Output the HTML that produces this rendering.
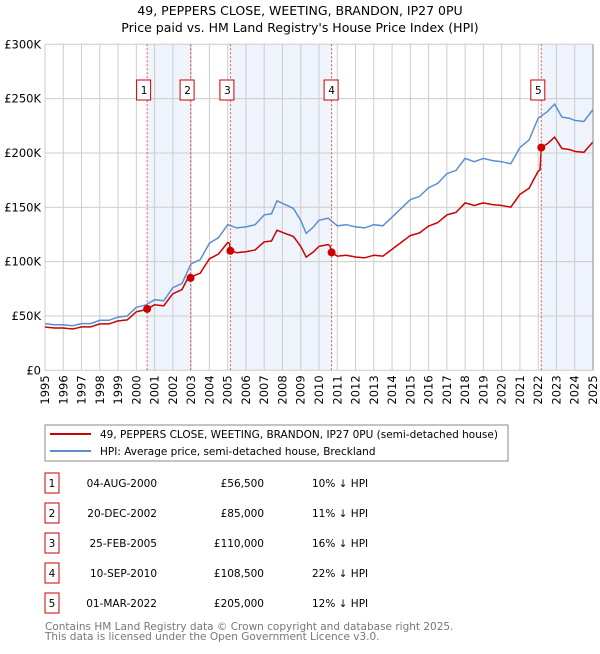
<!DOCTYPE html>
<html><head><meta charset="utf-8"><style>
body{margin:0;background:#fff;width:600px;height:650px;overflow:hidden;font-family:"DejaVu Sans","Liberation Sans",sans-serif;}
svg text{font-family:"DejaVu Sans","Liberation Sans",sans-serif;}
</style></head><body>
<svg id="chart" width="600" height="650" xmlns="http://www.w3.org/2000/svg">
<text x="300" y="15" text-anchor="middle" font-size="12.5" fill="#000">49, PEPPERS CLOSE, WEETING, BRANDON, IP27 0PU</text>
<text x="300" y="32" text-anchor="middle" font-size="12.5" fill="#000">Price paid vs. HM Land Registry's House Price Index (HPI)</text>
<g id="shade"></g><g id="grid"></g><g id="lines"></g><g id="marks"></g><g id="axes"></g>
<rect x="45" y="425" width="463" height="36" fill="#fff" stroke="#888"/>
<line x1="50" y1="434" x2="91" y2="434" stroke="#cc0000" stroke-width="2"/>
<text x="100" y="438" font-size="10.5">49, PEPPERS CLOSE, WEETING, BRANDON, IP27 0PU (semi-detached house)</text>
<line x1="50" y1="451" x2="91" y2="451" stroke="#5b8fd0" stroke-width="2"/>
<text x="100" y="455" font-size="10.5">HPI: Average price, semi-detached house, Breckland</text>
<g id="table"></g>
<text x="45" y="630" font-size="10.5" fill="#777">Contains HM Land Registry data © Crown copyright and database right 2025.</text>
<text x="45" y="640" font-size="10.5" fill="#777">This data is licensed under the Open Government Licence v3.0.</text>
</svg>
<script>
const hpiYears=[1995,1995.5,1996,1996.5,1997,1997.5,1998,1998.5,1999,1999.5,2000,2000.5,2001,2001.5,2002,2002.5,2003,2003.5,2004,2004.5,2005,2005.5,2006,2006.5,2007,2007.4,2007.7,2008.2,2008.6,2009,2009.3,2009.7,2010,2010.5,2011,2011.5,2012,2012.5,2013,2013.5,2014,2014.5,2015,2015.5,2016,2016.5,2017,2017.5,2018,2018.5,2019,2019.5,2020,2020.5,2021,2021.5,2022,2022.5,2022.9,2023.3,2023.7,2024,2024.5,2025];
const hpiValues=[43,42,42,41,43,43,46,46,49,50,58,60,65,64,76,80,98,102,117,122,134,131,132,134,143,144,156,152,149,138,126,132,138,140,133,134,132,131,134,133,141,149,157,160,168,172,181,184,195,192,195,193,192,190,205,212,232,238,245,233,232,230,229,240];
const saleDates=[2000.59,2002.97,2005.15,2010.69,2022.17];
const salePrices=[56.5,85,110,108.5,205];
const saleLabels=["04-AUG-2000","20-DEC-2002","25-FEB-2005","10-SEP-2010","01-MAR-2022"];
const salePriceText=["£56,500","£85,000","£110,000","£108,500","£205,000"];
const saleDiffs=["10% ↓ HPI","11% ↓ HPI","16% ↓ HPI","22% ↓ HPI","12% ↓ HPI"];
const yTicks=[0,50,100,150,200,250,300];
const yTickLabels=["£0","£50K","£100K","£150K","£200K","£250K","£300K"];
const xTicks=[1995,1996,1997,1998,1999,2000,2001,2002,2003,2004,2005,2006,2007,2008,2009,2010,2011,2012,2013,2014,2015,2016,2017,2018,2019,2020,2021,2022,2023,2024,2025];

const X0=45,X1=593,Y0=370.3,Y1=44.3;
const sx=v=>X0+(v-1995)/30*(X1-X0);
const sy=v=>Y0-v/300*(Y0-Y1);
const NS="http://www.w3.org/2000/svg";
function mk(p,t,a){const e=document.createElementNS(NS,t);for(const k in a)e.setAttribute(k,a[k]);document.getElementById(p).appendChild(e);return e;}
function hpiAt(t){for(let i=0;i<hpiYears.length-1;i++){if(t<=hpiYears[i+1]){const f=(t-hpiYears[i])/(hpiYears[i+1]-hpiYears[i]);return hpiValues[i]+f*(hpiValues[i+1]-hpiValues[i]);}}return hpiValues[hpiValues.length-1];}
// shaded spans
[[0,1],[2,3],[4,null]].forEach((s,i)=>{const a=sx(saleDates[s[0]]),b=s[1]===null?X1:sx(saleDates[s[1]]);
const r=mk('shade','rect',{x:a,y:Y1,width:b-a,height:Y0-Y1,fill:'#eef3fc'});

});
// grid
xTicks.forEach((t,i)=>{const l=mk('grid','line',{x1:sx(t),x2:sx(t),y1:Y1,y2:Y0,stroke:'#ccc','stroke-width':1});


const tx=mk('axes','text',{x:0,y:0,'font-size':11.5,'text-anchor':'end',transform:`translate(${sx(t)+4},${Y0+5}) rotate(-90)`});tx.textContent=t;

});
yTicks.forEach((v,i)=>{const l=mk('grid','line',{x1:X0,x2:X1,y1:sy(v),y2:sy(v),stroke:'#ccc','stroke-width':1});


const tx=mk('axes','text',{x:41,y:sy(v)+4,'font-size':11.5,'text-anchor':'end'});tx.textContent=yTickLabels[i];

});
// HPI line
let d='';hpiYears.forEach((t,i)=>{d+=(i?'L':'M')+sx(t).toFixed(1)+','+sy(hpiValues[i]).toFixed(1);});
const hl=mk('lines','path',{d:d,fill:'none',stroke:'#5b8fd0','stroke-width':1.5});


// property line: HPI scaled by ratio at last sale
const ratios=saleDates.map((t,i)=>salePrices[i]/hpiAt(t));
const pts=[];
for(let t=1995;t<=2025.001;t+=0.1){let k=0;for(let i=0;i<saleDates.length;i++)if(t>=saleDates[i])k=i;pts.push([t,hpiAt(t)*ratios[k]]);}
saleDates.forEach((t,i)=>{pts.push([t,salePrices[i]]);});
pts.sort((a,b)=>a[0]-b[0]);
let d2='';pts.forEach((p,i)=>{d2+=(i?'L':'M')+sx(p[0]).toFixed(1)+','+sy(p[1]).toFixed(1);});
const pl=mk('lines','path',{d:d2,fill:'none',stroke:'#cc0000','stroke-width':1.5});


// sale markers
saleDates.forEach((t,i)=>{
const vl=mk('marks','line',{x1:sx(t),x2:sx(t),y1:Y1,y2:Y0,stroke:'#e05050','stroke-width':1,'stroke-dasharray':'2,2'});


const c=mk('marks','circle',{cx:sx(t),cy:sy(salePrices[i]),r:4,fill:'#cc0000'});


const b=mk('marks','rect',{x:sx(t)-10,y:80,width:14,height:20,fill:'#fff',stroke:'#cc0000'});
b.setAttribute('x',sx(t)-7.5-(i===3?0:3));


const tx=mk('marks','text',{x:sx(t)-(i===3?0:3),y:94,'font-size':10.5,'text-anchor':'middle'});tx.textContent=i+1;


});
// axes
const ax=mk('axes','line',{x1:X1,x2:X1,y1:Y1,y2:Y0,stroke:'#888'});


// table
saleDates.forEach((t,i)=>{const yc=483+i*30;
const b=mk('table','rect',{x:45,y:yc-10,width:14,height:20,fill:'#fff',stroke:'#cc0000'});


const n=mk('table','text',{x:52,y:yc+4,'font-size':10.5,'text-anchor':'middle'});n.textContent=i+1;


const a=mk('table','text',{x:157,y:yc+4,'font-size':10.5,'text-anchor':'end'});a.textContent=saleLabels[i];


const p=mk('table','text',{x:264,y:yc+4,'font-size':10.5,'text-anchor':'end'});p.textContent=salePriceText[i];


const h=mk('table','text',{x:312,y:yc+4,'font-size':10.5});h.textContent=saleDiffs[i];


});
</script>
</body></html>
